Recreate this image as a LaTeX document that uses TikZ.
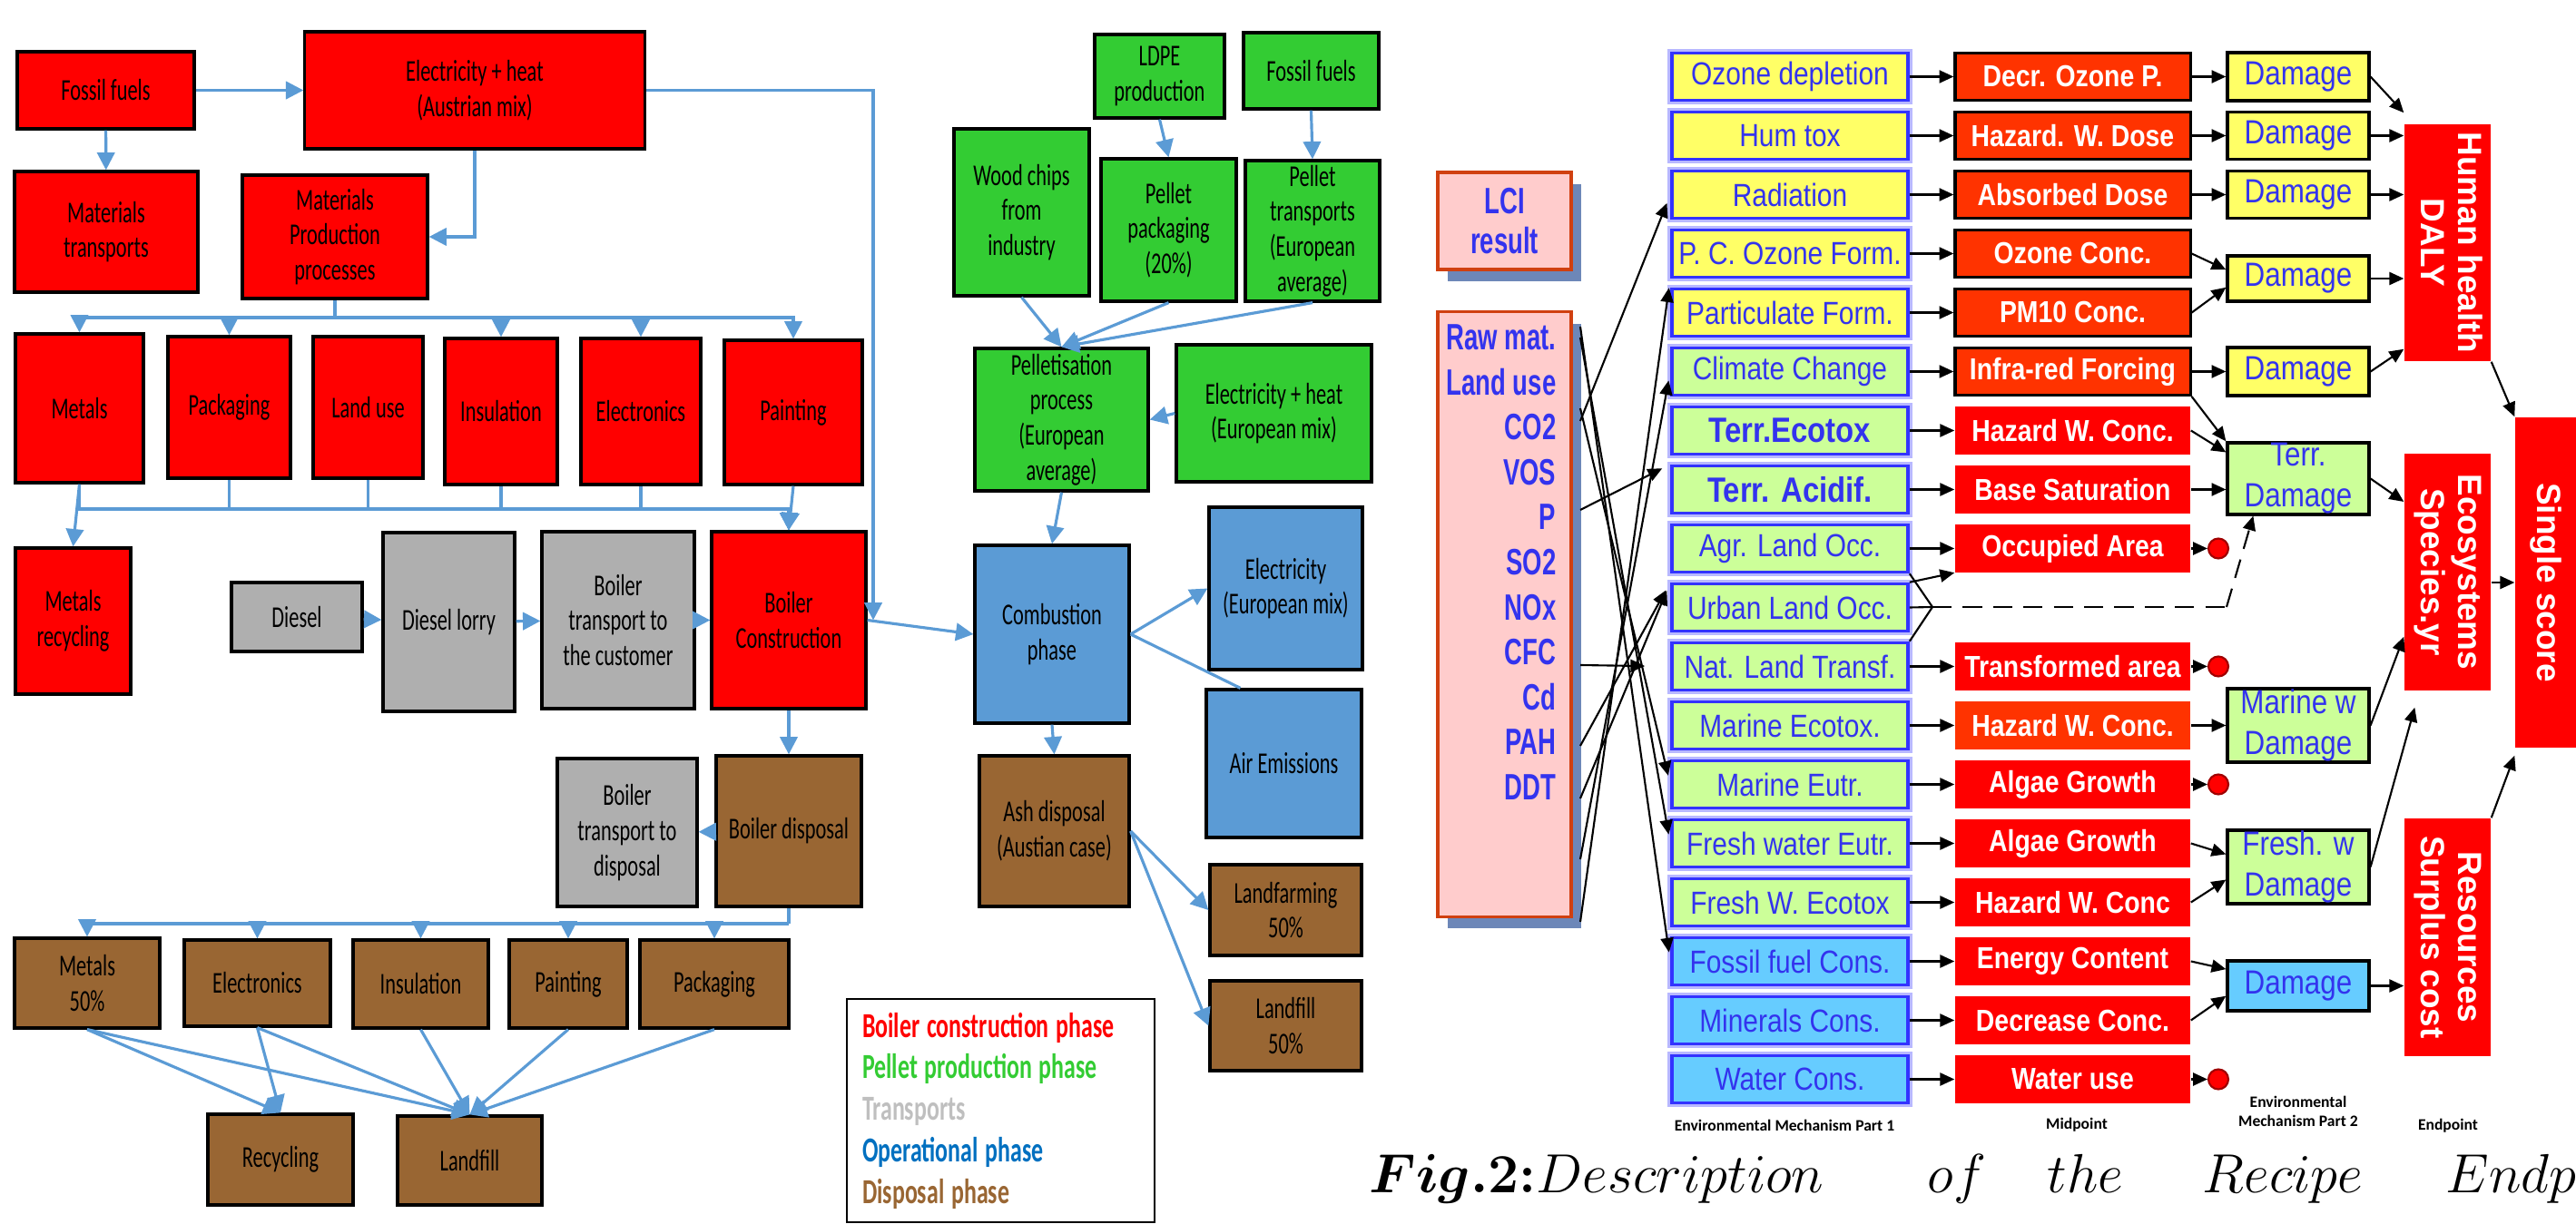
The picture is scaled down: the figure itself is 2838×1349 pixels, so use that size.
\documentclass[tikz,border=0pt]{standalone}
\usepackage{fontspec}
\usepackage{amsmath}
\usepackage{bm}
\usepackage{graphicx}
\usetikzlibrary{arrows.meta,positioning,shadows}

\newfontfamily\boxfont[FakeStretch=0.67]{Carlito}
\newfontfamily\tagfont{Carlito}
\newfontfamily\recfont[FakeStretch=0.85]{Liberation Sans}
\newfontfamily\listfont[FakeStretch=0.68]{Liberation Sans}
\newfontfamily\endfont{Liberation Sans}

\definecolor{conred}{HTML}{FF0000}
\definecolor{tragrey}{HTML}{AFAFAF}
\definecolor{disbrown}{HTML}{996633}
\definecolor{pelgreen}{HTML}{33CC33}
\definecolor{opeblue}{HTML}{5B9BD5}
\definecolor{flowblue}{HTML}{5B9BD5}
\definecolor{legblue}{HTML}{0070C0}
\definecolor{leggrey}{HTML}{BFBFBF}
\definecolor{mechyellow}{HTML}{FFFF66}
\definecolor{mechgreen}{HTML}{CCFF99}
\definecolor{mechcyan}{HTML}{66CCFF}
\definecolor{mechedge}{HTML}{3333FF}
\definecolor{mechtext}{HTML}{3333EE}
\definecolor{orred}{HTML}{FF3300}
\definecolor{lcipink}{HTML}{FFCCCC}
\definecolor{lciedge}{HTML}{D04010}
\definecolor{lcishade}{HTML}{6D87B8}
\definecolor{dotedge}{HTML}{A00000}

\tikzset{
  sz/.style 2 args={minimum width=#1cm,minimum height=#2cm},
  stage/.style={draw=black,line width=0.9pt,inner sep=1pt,align=center,
    font=\boxfont\fontsize{9.5}{11}\selectfont},
  con/.style={stage,fill=conred},
  tra/.style={stage,fill=tragrey},
  dis/.style={stage,fill=disbrown},
  pel/.style={stage,fill=pelgreen},
  ope/.style={stage,fill=opeblue},
  flowarr/.style={draw=flowblue,line width=0.9pt,-{Triangle[length=5.5pt,width=5.5pt]}},
  flowline/.style={draw=flowblue,line width=0.9pt},
  mech/.style={draw=mechedge,line width=1pt,preaction={draw=mechedge!35,line width=2.6pt},
    sz={2.6}{0.52},inner sep=0,text=mechtext,font=\recfont\fontsize{10}{12}\selectfont},
  mechy/.style={mech,fill=mechyellow},
  mechg/.style={mech,fill=mechgreen},
  mechc/.style={mech,fill=mechcyan},
  mpt/.style={sz={2.59}{0.52},inner sep=0,text=white,
    font=\recfont\bfseries\fontsize{9.5}{11}\selectfont},
  mpto/.style={mpt,fill=orred,draw=black,line width=0.9pt},
  mptr/.style={mpt,fill=conred},
  mptx/.style={mpt,fill=orred},
  dmg/.style={draw=black,line width=0.9pt,minimum width=1.56cm,inner sep=0,align=center,
    text=mechtext,font=\recfont\fontsize{10.5}{12.8}\selectfont},
  endp/.style={fill=conred,inner sep=0,text=white,
    font=\endfont\bfseries\fontsize{10.5}{11.6}\selectfont},
  enddot/.style={circle,fill=conred,draw=dotedge,line width=0.6pt,minimum size=0.22cm,inner sep=0},
  lci/.style={draw=lciedge,fill=lcipink,line width=0.9pt,
    drop shadow={fill=lcishade,opacity=1,shadow xshift=0.11cm,shadow yshift=-0.13cm}},
  inarr/.style={draw=black,line width=0.6pt,-{Triangle[length=4.5pt,width=4pt]}},
  coltag/.style={font=\tagfont\bfseries\fontsize{5}{6}\selectfont,align=center,inner sep=0},
  capt/.style={font=\fontsize{17.28}{20}\selectfont,inner sep=0,anchor=base west},
}

\begin{document}
\begin{tikzpicture}[x=0.01cm,y=-0.01cm]
\useasboundingbox (0,0) rectangle (2838,1349);
\clip (0,0) rectangle (2838,1349);

% boiler construction phase
\node[con,sz={1.95}{0.85}] (ff) at (116.5,99.5) {Fossil fuels};
\node[con,sz={3.74}{1.29}] (elat) at (523,99.5) {Electricity + heat\\(Austrian mix)};
\node[con,sz={2.02}{1.33}] (mtr) at (117,255.5) {Materials\\transports};
\node[con,sz={2.04}{1.36}] (mpp) at (369,261) {Materials\\Production\\processes};
\node[con,sz={1.41}{1.64}] (met) at (87.5,450) {Metals};
\node[con,sz={1.35}{1.56}] (pack) at (252.5,449) {Packaging};
\node[con,sz={1.21}{1.56}] (land) at (405.5,449) {Land use};
\node[con,sz={1.24}{1.61}] (ins) at (552,453.5) {Insulation};
\node[con,sz={1.32}{1.61}] (elec) at (706,453.5) {Electronics};
\node[con,sz={1.52}{1.59}] (paint) at (874,454.5) {Painting};
\node[con,sz={1.27}{1.61}] (metrec) at (80.5,684.5) {Metals\\recycling};
\node[con,sz={1.70}{1.95}] (bcon) at (869,683.5) {Boiler\\Construction};

% transports
\node[tra,sz={1.44}{0.76}] (dies) at (327,680) {Diesel};
\node[tra,sz={1.45}{1.97}] (lorry) at (494.5,685.5) {Diesel lorry};
\node[tra,sz={1.68}{1.95}] (btc) at (681,683.5) {Boiler\\transport to\\the customer};
\node[tra,sz={1.54}{1.63}] (btd) at (691,917.5) {Boiler\\transport to\\disposal};

% disposal phase
\node[dis,sz={1.60}{1.66}] (bdis) at (869,916) {Boiler disposal};
\node[dis,sz={1.60}{0.99}] (dmet) at (96,1083.5) {Metals\\50\%};
\node[dis,sz={1.61}{0.95}] (delec) at (283.5,1083.5) {Electronics};
\node[dis,sz={1.49}{0.97}] (dins) at (463.5,1084.5) {Insulation};
\node[dis,sz={1.30}{0.97}] (dpaint) at (626,1084.5) {Painting};
\node[dis,sz={1.64}{0.97}] (dpack) at (787,1084.5) {Packaging};
\node[dis,sz={1.60}{1.00}] (recyc) at (309,1278) {Recycling};
\node[dis,sz={1.59}{0.98}] (lfill) at (517.5,1279) {Landfill};

% pellet production phase
\node[pel,sz={1.43}{0.92}] (ldpe) at (1277.5,84) {LDPE\\production};
\node[pel,sz={1.49}{0.84}] (gff) at (1444.5,78) {Fossil fuels};
\node[pel,sz={1.49}{1.84}] (wood) at (1125.5,234) {Wood chips\\from\\industry};
\node[pel,sz={1.49}{1.57}] (ppack) at (1287.5,253.5) {Pellet\\packaging\\(20\%)};
\node[pel,sz={1.48}{1.55}] (ptr) at (1446,254.5) {Pellet\\transports\\(European\\average)};
\node[pel,sz={1.91}{1.57}] (pellet) at (1169.5,462.5) {Pelletisation\\process\\(European\\average)};
\node[pel,sz={2.15}{1.51}] (eleu) at (1403.5,455.5) {Electricity + heat\\(European mix)};

% operational phase
\node[ope,sz={1.70}{1.96}] (comb) at (1159,699) {Combustion\\phase};
\node[ope,sz={1.69}{1.79}] (eleumix) at (1416.5,648.5) {Electricity\\(European mix)};
\node[ope,sz={1.71}{1.63}] (air) at (1414.5,841.5) {Air Emissions};
\node[dis,sz={1.65}{1.66}] (ash) at (1161.5,916) {Ash disposal\\(Austian case)};
\node[dis,sz={1.67}{1.00}] (lfarm) at (1416.5,1003) {Landfarming\\50\%};
\node[dis,sz={1.67}{0.99}] (lfill2) at (1416.5,1130.5) {Landfill\\50\%};

% legend
\node[draw=black,line width=0.6pt,anchor=north west,minimum height=2.46cm,inner xsep=0.17cm,
  text width=3.05cm,align=left,font=\boxfont\bfseries\fontsize{11}{13}\selectfont] (legend) at (932,1100)
  {\spaceskip=2.2pt\relax
   \textcolor{conred}{Boiler construction phase}\\ \textcolor{pelgreen}{Pellet production phase}\\
   \textcolor{leggrey}{Transports}\\ \textcolor{legblue}{Operational phase}\\ \textcolor{disbrown}{Disposal phase}};

% flows
\draw[flowarr] (ff) -- (elat);
\draw[flowarr] (ff) -- (mtr);
\draw[flowarr] (elat.south) |- (mpp.east);
\coordinate (bcin) at (962,683.5);
\draw[flowarr] (elat.east) -| (bcin);
\draw[flowarr] (bcon.east) -- (comb.west);
\coordinate (busa) at (369,350);
\draw[flowline] (mpp.south) -- (busa);
\foreach \n in {met,pack,ins,elec,paint} \draw[flowarr] (busa) -| (\n.north);
\draw[flowarr] (met.south) -- (metrec.north);
\coordinate (busb) at (869,561);
\foreach \n in {met,pack,land,ins,elec} \draw[flowarr] (\n.south) |- (busb) -- (bcon.north);
\draw[flowarr] (paint.south) -- (bcon.north);
\draw[flowarr] (dies) -- (lorry);
\draw[flowarr] (lorry) -- (btc);
\draw[flowarr] (btc) -- (bcon);
\draw[flowarr] (bcon) -- (bdis);
\draw[flowarr] (bdis) -- (btd);
\coordinate (busc) at (869,1018);
\draw[flowline] (bdis.south) -- (busc);
\foreach \n in {dmet,delec,dins,dpaint,dpack} \draw[flowarr] (busc) -| (\n.north);
\foreach \n in {dmet,delec} \draw[flowarr] (\n.south) -- (recyc.north);
\foreach \n in {dmet,delec,dins,dpaint,dpack} \draw[flowarr] (\n.south) -- (lfill.north);
\draw[flowarr] (ldpe.south) -- (ppack.north);
\draw[flowarr] (gff.south) -- (ptr.north);
\foreach \n in {wood,ppack,ptr} \draw[flowarr] (\n.south) -- (pellet.north);
\draw[flowarr] (eleu.west) -- (pellet.east);
\draw[flowarr] (pellet.south) -- (comb.north);
\draw[flowarr] (comb.east) -- (eleumix.west);
\draw[flowline] (comb.east) -- (air.120);
\draw[flowarr] (comb.south) -- (ash.north);
\draw[flowarr] (ash.east) -- (lfarm.west);
\draw[flowarr] (ash.east) -- (lfill2.west);

% ReCiPe: inventory
\node[lci,sz={1.47}{1.07},align=center,text=mechtext,
  font=\listfont\bfseries\fontsize{11.5}{12.5}\selectfont] (lcires) at (1657.5,243.5) {LCI\\result};
\node[lci,sz={1.47}{6.66}] (inv) at (1657.5,677) {};
\node[anchor=north east,align=right,inner sep=0,text=mechtext,
  font=\listfont\bfseries\fontsize{11.5}{14.1}\selectfont] (invlist) at (1715,357)
  {Raw mat.\\Land use\\CO2\\VOS\\P\\SO2\\NOx\\CFC\\Cd\\PAH\\DDT};

% environmental mechanism part 1
\foreach \i/\t/\s in {1/Ozone depletion/mechy, 2/Hum tox/mechy, 3/Radiation/mechy,
  4/P. C. Ozone Form./mechy, 5/Particulate Form./mechy, 6/Climate Change/mechg,
  7/{\bfseries\fontsize{11}{12}\selectfont Terr.Ecotox}/mechg, 8/{\bfseries\fontsize{11}{12}\selectfont Terr. Acidif.}/mechg,
  9/Agr. Land Occ./mechg, 10/Urban Land Occ./mechg, 11/Nat. Land Transf./mechg,
  12/Marine Ecotox./mechg, 13/Marine Eutr./mechg, 14/Fresh water Eutr./mechg,
  15/Fresh W. Ecotox/mechg, 16/Fossil fuel Cons./mechc, 17/Minerals Cons./mechc, 18/Water Cons./mechc}
  \node[\s] (ep\i) at (1972,{84.5+65*(\i-1)}) {\t};

% midpoints
\foreach \i/\t/\s in {1/Decr. Ozone P./mpto, 2/Hazard. W. Dose/mpto, 3/Absorbed Dose/mpto,
  4/Ozone Conc./mpto, 5/PM10 Conc./mpto, 6/Infra-red Forcing/mpto, 7/Hazard W. Conc./mptr,
  8/Base Saturation/mptr, 9/Occupied Area/mptr, 11/Transformed area/mptr, 12/Hazard W. Conc./mptx,
  13/Algae Growth/mptr, 14/Algae Growth/mptr, 15/Hazard W. Conc/mptr, 16/Energy Content/mptr,
  17/Decrease Conc./mptr, 18/Water use/mptr}
  \node[\s] (mp\i) at (2283.5,{84.5+65*(\i-1)}) {\t};
\foreach \i in {1,...,9,11,12,...,18} \draw[inarr] (ep\i.east) -- (mp\i.west);
\foreach \i in {9,11,13,18} {
  \node[enddot] (dot\i) at (2444,{84.5+65*(\i-1)}) {};
  \draw[inarr] (mp\i.east) -- (dot\i.west);
}

% inventory to mechanisms
\foreach \y/\t in {360/ep16.west, 372/ep14.west, 450/ep13.west, 464/ep3.west, 562/ep8.north west,
  822/ep10.north west, 880/ep10.north west, 947/ep6.west, 1016/ep4.south west} {
  \coordinate (src\y) at (1741,\y);
  \draw[inarr,shorten >=0.1cm] (src\y) -- (\t);
}
\coordinate (srccfc) at (1741,733);
\draw[inarr,shorten >=0.28cm] (srccfc) -- (ep11.west);

% land use
\coordinate (fork) at (2129,669);
\coordinate (bend) at (2453,669);
\draw[line width=0.6pt] (ep9.south east) -- (fork) -- (ep11.north east);
\draw[line width=0.6pt] (ep10.east) -- (fork);
\draw[inarr] (ep10.north east) -- (mp9.south west);
\draw[line width=0.6pt,dash pattern=on 6pt off 3.5pt] (fork) -- (bend);

% environmental mechanism part 2
\node[dmg,fill=mechyellow,minimum height=0.53cm] (dm1) at (2532,84.5) {Damage};
\node[dmg,fill=mechyellow,minimum height=0.52cm] (dm2) at (2532,149.5) {Damage};
\node[dmg,fill=mechyellow,minimum height=0.52cm] (dm3) at (2532,214.5) {Damage};
\node[dmg,fill=mechyellow,minimum height=0.50cm] (dm4) at (2532,307) {Damage};
\node[dmg,fill=mechyellow,minimum height=0.53cm] (dm6) at (2532,409.5) {Damage};
\node[dmg,fill=mechgreen,minimum height=0.79cm] (terr) at (2532,527.5) {Terr.\\Damage};
\node[dmg,fill=mechgreen,minimum height=0.81cm] (marine) at (2532,799.5) {Marine w\\Damage};
\node[dmg,fill=mechgreen,minimum height=0.81cm] (fresh) at (2532,955.5) {Fresh. w\\Damage};
\node[dmg,fill=mechcyan,minimum height=0.55cm] (rdmg) at (2532,1086.5) {Damage};
\draw[inarr,dash pattern=on 6pt off 3.5pt] (bend) -- ([xshift=0.3cm]terr.south west);

\foreach \i in {1,2,3,6} \draw[inarr] (mp\i.east) -- (dm\i.west);
\draw[inarr] (mp4.east) -- (dm4.173);
\draw[inarr] (mp5.east) -- (dm4.187);
\draw[inarr] (mp6.south east) -- (terr.north west);
\draw[inarr] (mp7.east) -- (terr.160);
\draw[inarr] (mp8.east) -- (mp8.east -| terr.west);
\draw[inarr] (mp12.east) -- (marine.west);
\draw[inarr] (mp14.east) -- (fresh.170);
\draw[inarr] (mp15.east) -- (fresh.190);
\draw[inarr] (mp16.east) -- (rdmg.167);
\draw[inarr] (mp17.east) -- (rdmg.188);

% endpoints
\node[endp,sz={0.95}{2.61}] (hh) at (2696.5,267.5)
  {\rotatebox{-90}{\begin{tabular}{@{}c@{}}Human health\\DALY\end{tabular}}};
\node[endp,sz={0.95}{2.61}] (eco) at (2696.5,630.5)
  {\rotatebox{-90}{\begin{tabular}{@{}c@{}}Ecosystems\\Species.yr\end{tabular}}};
\node[endp,sz={0.95}{2.62}] (res) at (2696.5,1033)
  {\rotatebox{-90}{\begin{tabular}{@{}c@{}}Resources\\Surplus cost\end{tabular}}};
\node[endp,sz={0.67}{3.64}] (single) at (2804.5,642) {\rotatebox{-90}{Single score}};

\draw[inarr] (dm1.east) -- ([yshift=0.12cm]hh.north west);
\foreach \i in {2,3,4} \draw[inarr] (dm\i.east) -- (dm\i.east -| hh.west);
\draw[inarr] (dm6.east) -- ([yshift=0.14cm]hh.south west);
\draw[inarr] (terr.east) -- ([yshift=0.775cm]eco.west);
\draw[inarr] (marine.east) -- ([yshift=0.6cm]eco.south west);
\draw[inarr] (fresh.east) -- ([xshift=0.12cm,yshift=-0.18cm]eco.south west);
\draw[inarr] (rdmg.east) -- (rdmg.east -| res.west);
\draw[inarr] (hh.south east) -- (single.north west);
\draw[inarr] (single.west -| eco.east) -- (single.west);
\draw[inarr] (res.north east) -- ([yshift=-0.08cm]single.south west);

% column titles
\node[coltag] (lab1) at (1966,1240) {Environmental Mechanism Part 1};
\node[coltag] (lab2) at (2288,1240) {Midpoint};
\node[coltag] (lab3) at (2532,1225) {Environmental\\Mechanism Part 2};
\node[coltag] (lab4) at (2697,1241) {Endpoint};

% caption
\node[capt] (cap1) at (1508,1314) {$\bm{Fig.2{:}}Description$};
\node[capt] (cap2) at (2123,1314) {$of$};
\node[capt] (cap3) at (2255,1314) {$the$};
\node[capt] (cap4) at (2426,1314) {$Recipe$};
\node[capt] (cap5) at (2694,1314) {$Endpoint$};
\end{tikzpicture}
\end{document}
